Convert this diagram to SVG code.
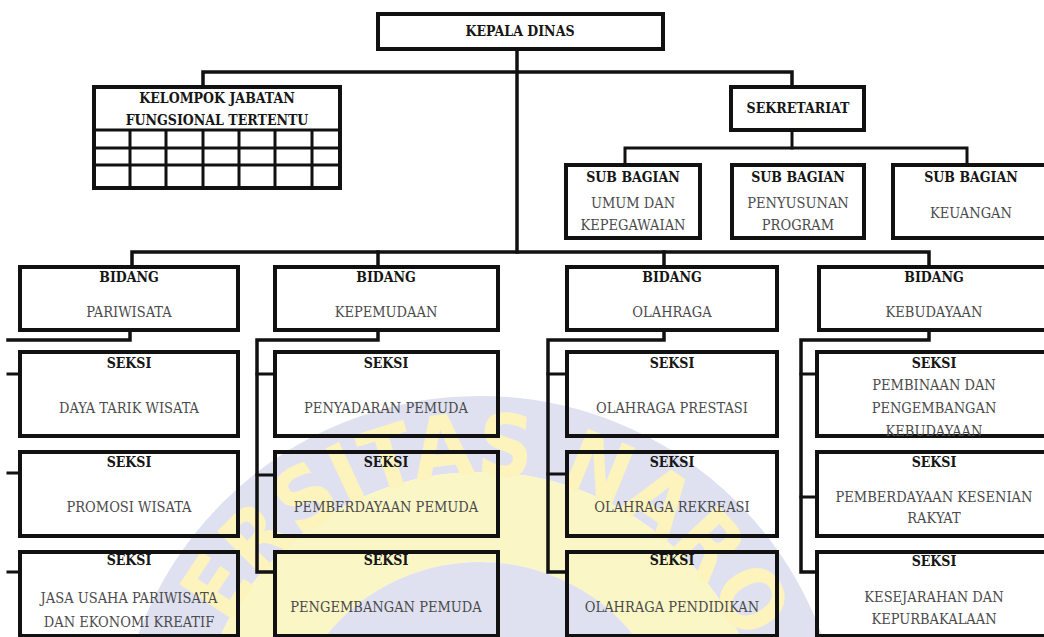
<svg xmlns="http://www.w3.org/2000/svg" width="1044" height="637" viewBox="0 0 1044 637">
  <style>
    .box { fill: none; stroke: #111; stroke-width: 4; }
    .grid { fill: none; stroke: #111; stroke-width: 3; }
    .ln { fill: none; stroke: #111; stroke-width: 3.5; stroke-linejoin: miter; stroke-linecap: square; }
    .ln-thin { stroke-width: 3; }
    .hd { font-family: "DejaVu Serif Condensed", "DejaVu Serif", serif; font-weight: bold; font-size: 14px; fill: #161616; text-anchor: middle; }
    .tx { font-family: "DejaVu Serif Condensed", "DejaVu Serif", serif; font-size: 14.5px; fill: #4a4a4a; text-anchor: middle; }
    .wm { font-family: "DejaVu Sans Condensed", "DejaVu Sans", sans-serif; font-weight: bold; font-size: 86px; fill: #fcf3bd; }
  </style>
  <defs>
    <path id="wmArc" d="M195,760 A285,285 0 0 1 765,760"/>
  </defs>

  <rect width="1044" height="637" fill="#ffffff"/>

  <!-- faint seal in the background -->
  <g id="watermark">
    <circle cx="480" cy="760" r="326" fill="none" stroke="#dfe1f0" stroke-width="76"/>
    <circle cx="480" cy="760" r="243" fill="none" stroke="#fbf6c6" stroke-width="90"/>
    <circle cx="480" cy="760" r="198" fill="#dfe1f0"/>
    <text class="wm"><textPath href="#wmArc" startOffset="140">ERSITAS NARO</textPath></text>
  </g>

  <!-- connectors -->
  <g id="connectors">
    <path class="ln" d="M517,51 V252"/>
    <path class="ln" d="M203,86 V72 H792 V86"/>
    <path class="ln ln-thin" d="M792,132 V148"/>
    <path class="ln ln-thin" d="M625,164 V148 H967 V164"/>
    <path class="ln" d="M132,266 V252 H929 V266"/>
    <path class="ln" d="M378,252 V266"/>
    <path class="ln" d="M664,252 V266"/>

    <path class="ln" d="M130,332 V340 H8"/>
    <path class="ln ln-thin" d="M8,374 H19 M8,473 H19 M8,572 H19"/>

    <path class="ln" d="M378,332 V340 H257 V572 H274"/>
    <path class="ln ln-thin" d="M257,374 H274 M257,475 H274"/>

    <path class="ln" d="M664,332 V340 H548 V572 H566"/>
    <path class="ln ln-thin" d="M548,374 H566 M548,474 H566"/>

    <path class="ln" d="M929,332 V340 H801 V572 H816"/>
    <path class="ln ln-thin" d="M801,374 H816 M801,497 H816"/>
  </g>

  <g id="kepala-dinas">
    <rect class="box" x="378" y="14" width="285" height="35"/>
    <text class="hd" x="520" y="36">KEPALA DINAS</text>
  </g>

  <g id="kelompok-jabatan">
    <rect class="box" x="94" y="87" width="246" height="101"/>
    <path class="grid" d="M94,130 H340 M94,148 H340 M94,165 H340 M130,130 V188 M166,130 V188 M203,130 V188 M239,130 V188 M275,130 V188 M312,130 V188"/>
    <text class="hd" x="217" y="103">KELOMPOK JABATAN</text>
    <text class="hd" x="217" y="125">FUNGSIONAL TERTENTU</text>
  </g>

  <g id="sekretariat">
    <rect class="box" x="731" y="87" width="133" height="43"/>
    <text class="hd" x="798" y="113">SEKRETARIAT</text>
  </g>

  <g id="subbag-umum">
    <rect class="box" x="566" y="165" width="134" height="73"/>
    <text class="hd" x="633" y="182">SUB BAGIAN</text>
    <text class="tx" x="633" y="208">UMUM DAN</text>
    <text class="tx" x="633" y="230">KEPEGAWAIAN</text>
  </g>

  <g id="subbag-program">
    <rect class="box" x="732" y="165" width="132" height="73"/>
    <text class="hd" x="798" y="182">SUB BAGIAN</text>
    <text class="tx" x="798" y="208">PENYUSUNAN</text>
    <text class="tx" x="798" y="230">PROGRAM</text>
  </g>

  <g id="subbag-keuangan">
    <rect class="box" x="893" y="165" width="156" height="73"/>
    <text class="hd" x="971" y="182">SUB BAGIAN</text>
    <text class="tx" x="971" y="218">KEUANGAN</text>
  </g>

  <!-- bidang -->
  <g id="bidang-pariwisata">
    <rect class="box" x="20" y="267" width="218" height="63"/>
    <text class="hd" x="129" y="282">BIDANG</text>
    <text class="tx" x="129" y="317">PARIWISATA</text>
  </g>
  <g id="bidang-kepemudaan">
    <rect class="box" x="275" y="267" width="223" height="63"/>
    <text class="hd" x="386" y="282">BIDANG</text>
    <text class="tx" x="386" y="317">KEPEMUDAAN</text>
  </g>
  <g id="bidang-olahraga">
    <rect class="box" x="567" y="267" width="210" height="63"/>
    <text class="hd" x="672" y="282">BIDANG</text>
    <text class="tx" x="672" y="317">OLAHRAGA</text>
  </g>
  <g id="bidang-kebudayaan">
    <rect class="box" x="819" y="267" width="230" height="63"/>
    <text class="hd" x="934" y="282">BIDANG</text>
    <text class="tx" x="934" y="317">KEBUDAYAAN</text>
  </g>

  <!-- seksi: pariwisata -->
  <g id="seksi-daya-tarik">
    <rect class="box" x="20" y="352" width="218" height="84"/>
    <text class="hd" x="129" y="368">SEKSI</text>
    <text class="tx" x="129" y="413">DAYA TARIK WISATA</text>
  </g>
  <g id="seksi-promosi">
    <rect class="box" x="20" y="452" width="218" height="84"/>
    <text class="hd" x="129" y="467">SEKSI</text>
    <text class="tx" x="129" y="512">PROMOSI WISATA</text>
  </g>
  <g id="seksi-jasa-usaha">
    <rect class="box" x="20" y="552" width="218" height="84"/>
    <text class="hd" x="129" y="565">SEKSI</text>
    <text class="tx" x="129" y="603">JASA USAHA PARIWISATA</text>
    <text class="tx" x="129" y="627">DAN EKONOMI KREATIF</text>
  </g>

  <!-- seksi: kepemudaan -->
  <g id="seksi-penyadaran">
    <rect class="box" x="275" y="352" width="223" height="84"/>
    <text class="hd" x="386" y="368">SEKSI</text>
    <text class="tx" x="386" y="413">PENYADARAN PEMUDA</text>
  </g>
  <g id="seksi-pemberdayaan-pemuda">
    <rect class="box" x="275" y="452" width="223" height="84"/>
    <text class="hd" x="386" y="467">SEKSI</text>
    <text class="tx" x="386" y="512">PEMBERDAYAAN PEMUDA</text>
  </g>
  <g id="seksi-pengembangan-pemuda">
    <rect class="box" x="275" y="552" width="223" height="84"/>
    <text class="hd" x="386" y="565">SEKSI</text>
    <text class="tx" x="386" y="612">PENGEMBANGAN PEMUDA</text>
  </g>

  <!-- seksi: olahraga -->
  <g id="seksi-prestasi">
    <rect class="box" x="567" y="352" width="210" height="84"/>
    <text class="hd" x="672" y="368">SEKSI</text>
    <text class="tx" x="672" y="413">OLAHRAGA PRESTASI</text>
  </g>
  <g id="seksi-rekreasi">
    <rect class="box" x="567" y="452" width="210" height="84"/>
    <text class="hd" x="672" y="467">SEKSI</text>
    <text class="tx" x="672" y="512">OLAHRAGA REKREASI</text>
  </g>
  <g id="seksi-pendidikan">
    <rect class="box" x="567" y="552" width="210" height="84"/>
    <text class="hd" x="672" y="565">SEKSI</text>
    <text class="tx" x="672" y="612">OLAHRAGA PENDIDIKAN</text>
  </g>

  <!-- seksi: kebudayaan -->
  <g id="seksi-pembinaan">
    <rect class="box" x="817" y="352" width="232" height="84"/>
    <text class="hd" x="934" y="368">SEKSI</text>
    <text class="tx" x="934" y="390">PEMBINAAN DAN</text>
    <text class="tx" x="934" y="413">PENGEMBANGAN</text>
    <text class="tx" x="934" y="436">KEBUDAYAAN</text>
  </g>
  <g id="seksi-kesenian">
    <rect class="box" x="817" y="452" width="232" height="84"/>
    <text class="hd" x="934" y="467">SEKSI</text>
    <text class="tx" x="934" y="502">PEMBERDAYAAN KESENIAN</text>
    <text class="tx" x="934" y="523">RAKYAT</text>
  </g>
  <g id="seksi-kesejarahan">
    <rect class="box" x="817" y="552" width="232" height="84"/>
    <text class="hd" x="934" y="566">SEKSI</text>
    <text class="tx" x="934" y="602">KESEJARAHAN DAN</text>
    <text class="tx" x="934" y="624">KEPURBAKALAAN</text>
  </g>
</svg>
